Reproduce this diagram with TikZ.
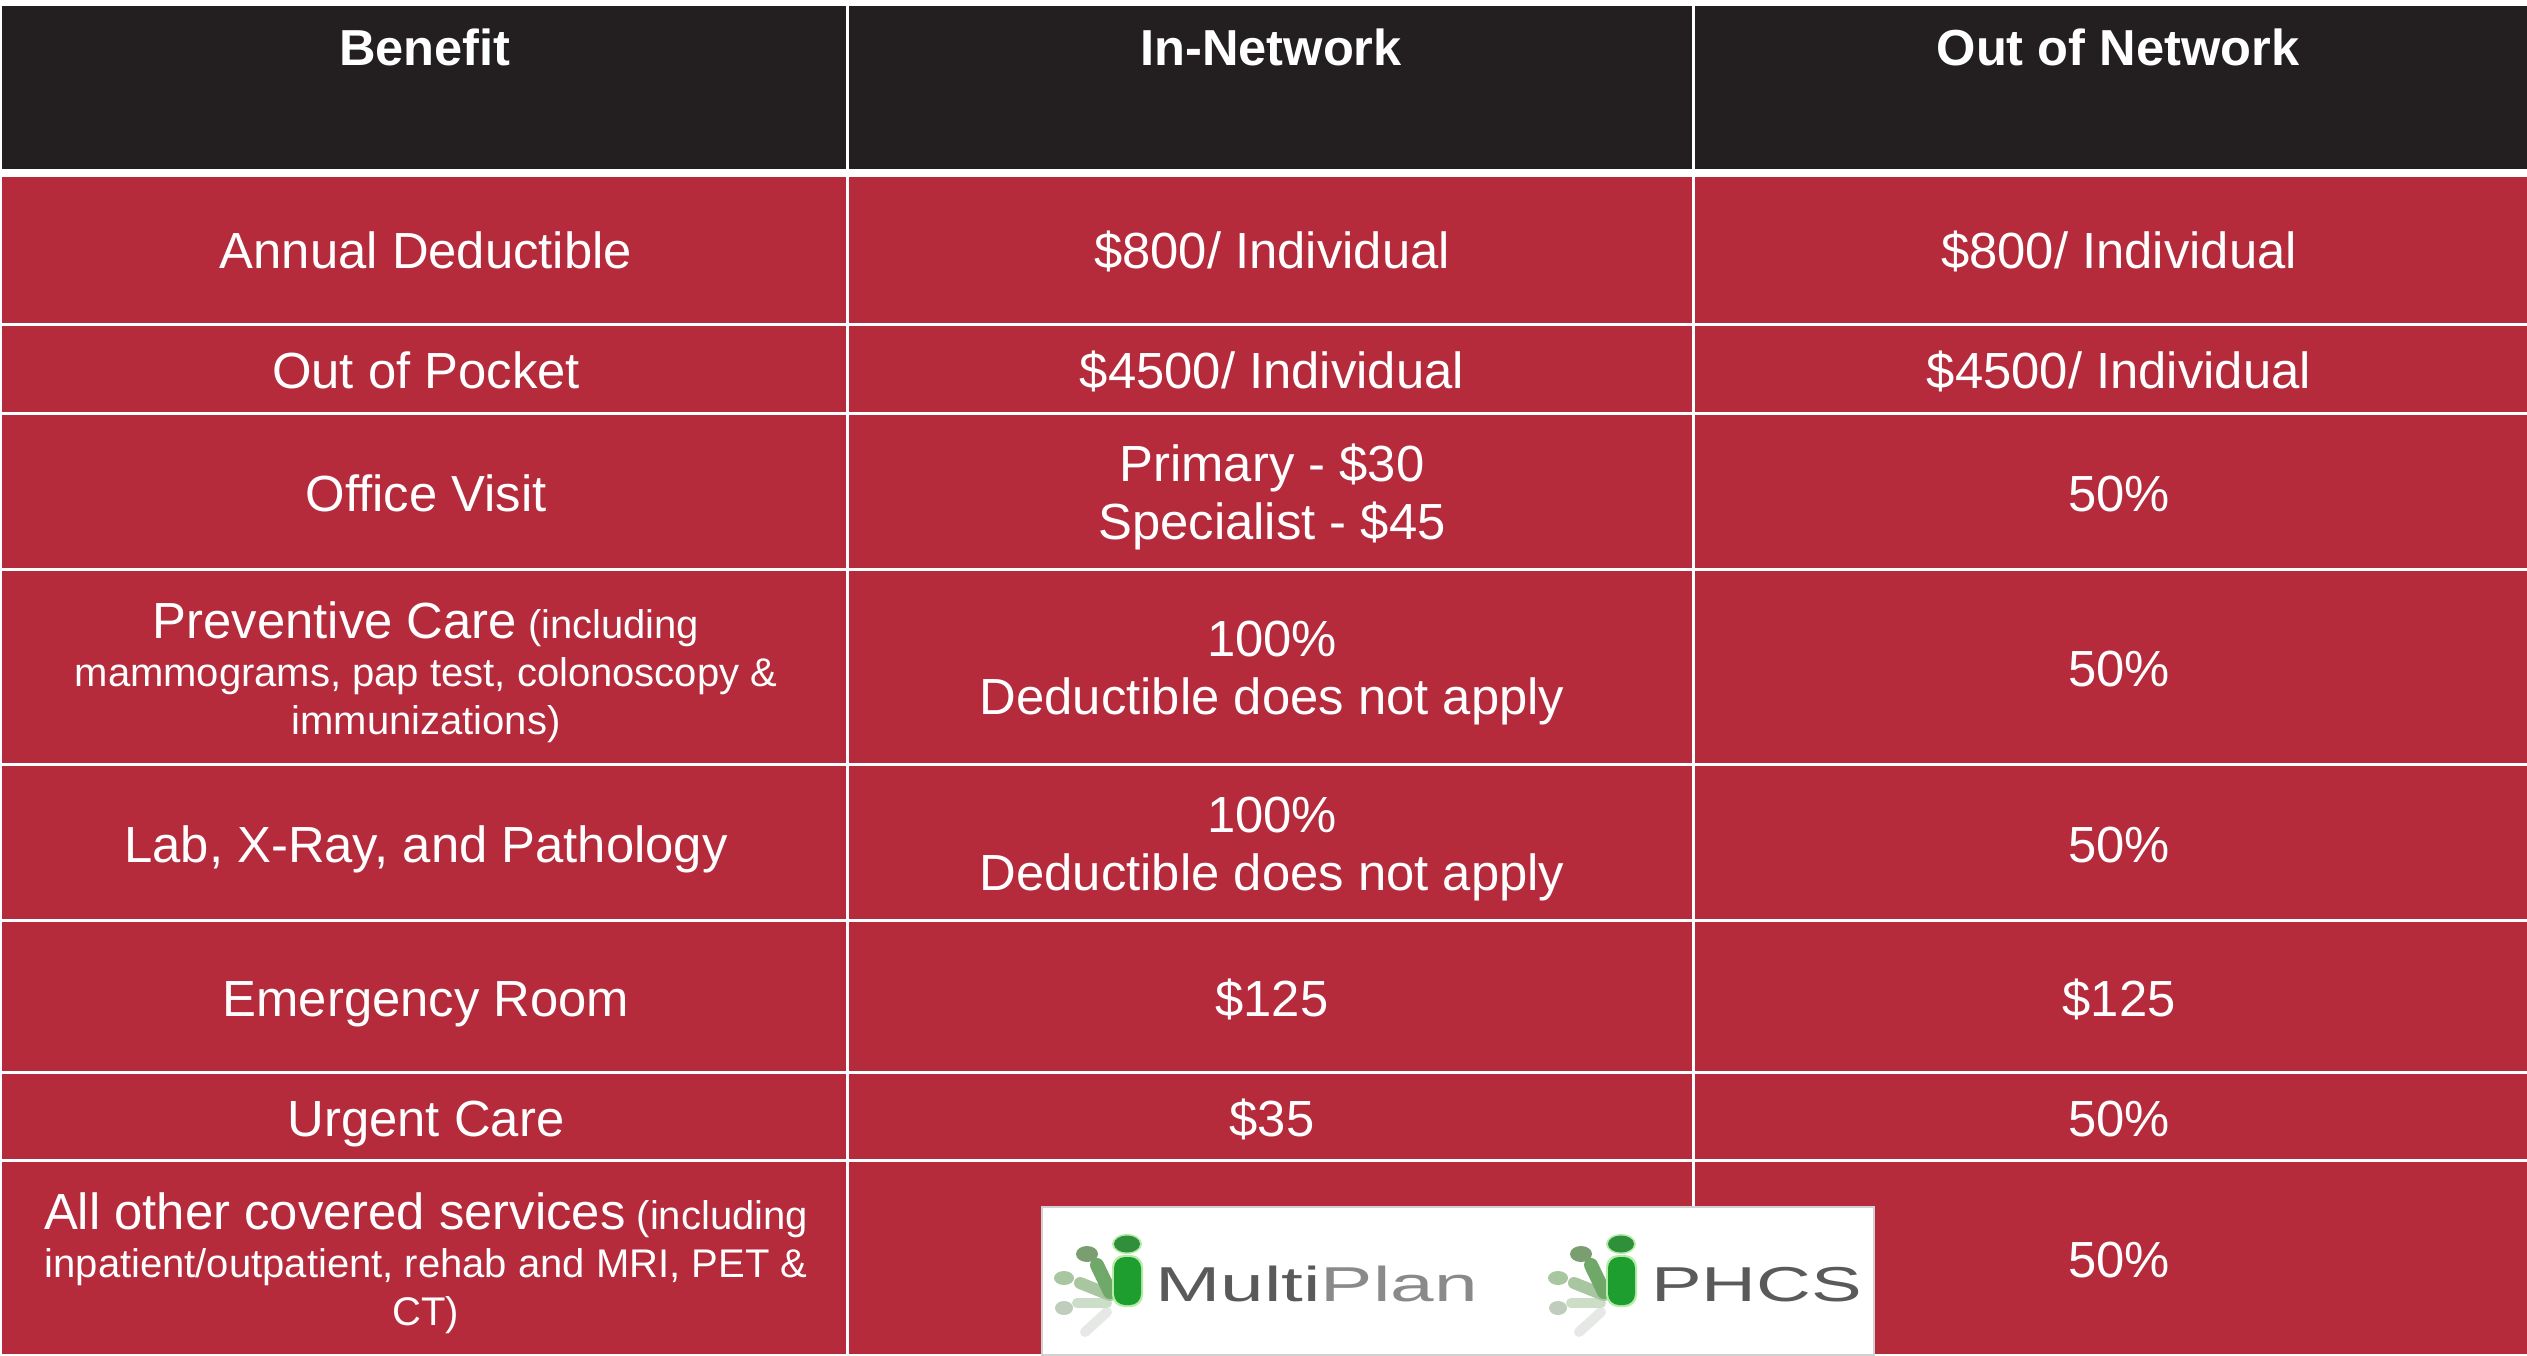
\documentclass[tikz,border=0pt]{standalone}
\usepackage{fontspec}
\setmainfont{Liberation Sans}
\definecolor{hdr}{HTML}{231F20}
\definecolor{rd}{HTML}{B52B3C}
\definecolor{gA}{HTML}{1E9E2E}
\definecolor{gH}{HTML}{B4ECA8}
\definecolor{gK}{HTML}{2F8F3A}
\definecolor{gB}{HTML}{7A9E70}
\definecolor{gF}{HTML}{6FA868}
\definecolor{gC}{HTML}{A8C6A0}
\definecolor{gD}{HTML}{CCDEC8}
\definecolor{gE}{HTML}{E6E8E6}
\definecolor{gL}{HTML}{C0CCBC}
\definecolor{tD}{HTML}{5A5A5A}
\definecolor{tL}{HTML}{8A8A8A}
\tikzset{
  txt/.style={text=white,align=center,inner sep=0pt,font=\fontsize{50.8}{58}\selectfont},
  smalltxt/.style={text=white,align=center,inner sep=0pt,font=\fontsize{40}{48}\selectfont},
  head/.style={text=white,anchor=base,inner sep=0pt,font=\fontsize{50.6}{58}\selectfont\bfseries},
  grid/.style={white,line width=3pt},
  logotxt/.style={transform shape,inner sep=0pt,anchor=base west,font=\fontsize{49}{49}\selectfont}
}
\newcommand\logomark[1]{%
\begin{scope}[shift={(#1,0)},line cap=round]
  \draw[gE,line width=10pt] (1107,1312) -- (1085,1332);
  \draw[gD,line width=10pt] (1107,1303) -- (1077,1303);
  \draw[gC,line width=12pt] (1110,1295) -- (1080,1283);
  \draw[gF,line width=14pt] (1110,1292) -- (1097,1265);
  \fill[gB] (1087,1254) ellipse [x radius=11,y radius=8];
  \fill[gC] (1064,1278) ellipse [x radius=10,y radius=7];
  \fill[gL] (1064,1308) ellipse [x radius=9,y radius=7];
  \fill[gH,rounded corners=12pt] (1112,1255) rectangle (1143,1307);
  \fill[gA,rounded corners=11pt] (1114,1257) rectangle (1141,1305);
  \fill[gH] (1127,1244) ellipse [x radius=15,y radius=10];
  \fill[gK] (1127,1244) ellipse [x radius=13,y radius=8.5];
\end{scope}}
\begin{document}
\begin{tikzpicture}[x=1pt,y=-1pt]
\useasboundingbox (0,0) rectangle (2527,1356);
\fill[white] (0,0) rectangle (2527,1356);
% fills
\fill[hdr] (2,6) rectangle (2527,169);
\fill[rd] (2,177) rectangle (2527,1354);
% grid
\foreach \yy in {324,413,569,764,920,1072,1160}
  \draw[grid] (2,\yy) -- (2527,\yy);
\draw[grid] (847,6) -- (847,169);
\draw[grid] (847,177) -- (847,1354);
\draw[grid] (1693,6) -- (1693,169);
\draw[grid] (1693,177) -- (1693,1354);
% header
\node[head] (h1) at (425,66) {Benefit};
\node[head] (h2) at (1271,66) {In-Network};
\node[head] (h3) at (2118,66) {Out of Network};
% rows
\node[txt] (a1) at (426,257) {\strut Annual Deductible};
\node[txt] (a2) at (1272,257) {\strut \$800/ Individual};
\node[txt] (a3) at (2119,257) {\strut \$800/ Individual};
\node[txt] (b1) at (426,377) {\strut Out of Pocket};
\node[txt] (b2) at (1272,377) {\strut \$4500/ Individual};
\node[txt] (b3) at (2119,377) {\strut \$4500/ Individual};
\node[txt] (c1) at (426,500) {\strut Office Visit};
\node[txt] (c2) at (1272,499) {\strut Primary - \$30\\\strut Specialist - \$45};
\node[txt] (c3) at (2119,500) {\strut 50\%};
\node[smalltxt] (d1) at (426,672) {{\fontsize{50.8}{58}\selectfont Preventive Care} (including\\mammograms, pap test, colonoscopy \&\\immunizations)};
\node[txt] (d2) at (1272,674) {\strut 100\%\\\strut Deductible does not apply};
\node[txt] (d3) at (2119,675) {\strut 50\%};
\node[txt] (e1) at (426,850.5) {\strut Lab, X-Ray, and Pathology};
\node[txt] (e2) at (1272,850) {\strut 100\%\\\strut Deductible does not apply};
\node[txt] (e3) at (2119,850.5) {\strut 50\%};
\node[txt] (f1) at (426,1004.5) {\strut Emergency Room};
\node[txt] (f2) at (1272,1004.5) {\strut \$125};
\node[txt] (f3) at (2119,1004.5) {\strut \$125};
\node[txt] (g1) at (426,1124.5) {\strut Urgent Care};
\node[txt] (g2) at (1272,1124.5) {\strut \$35};
\node[txt] (g3) at (2119,1124.5) {\strut 50\%};
\node[smalltxt] (k1) at (426,1263) {{\fontsize{50.8}{58}\selectfont All other covered services} (including\\inpatient/outpatient, rehab and MRI, PET \&\\CT)};
\node[txt] (k3) at (2119,1266) {\strut 50\%};
% logo
\filldraw[fill=white,draw=black!18,line width=2pt] (1042,1207) rectangle (1874,1355);
\logomark{0}
\logomark{494}
\node[logotxt,xscale=1.6] (mp) at (1155,1301) {\textcolor{tD}{Multi}\textcolor{tL}{Plan}};
\node[logotxt,xscale=1.55] (ph) at (1651,1301) {\textcolor{tD}{PHCS}};
\end{tikzpicture}
\end{document}
